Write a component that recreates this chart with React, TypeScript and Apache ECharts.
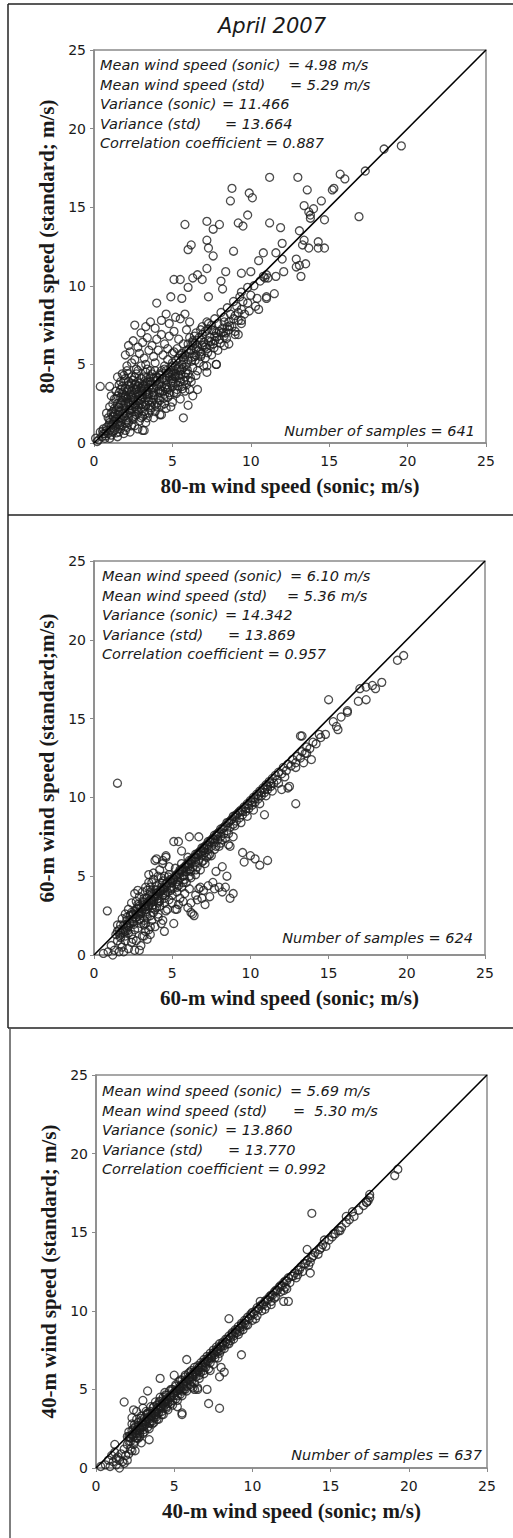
import React, { useEffect, useRef } from "react";
import * as echarts from "echarts";

// ---------- DATA ----------
const TITLE = "April 2007";
const X_TICKS = [0, 5, 10, 15, 20, 25];
const DIAGONAL = [[0, 0], [25, 25]];

const X_NAMES = [
  "80-m wind speed (sonic; m/s)",
  "60-m wind speed (sonic; m/s)",
  "40-m wind speed (sonic; m/s)",
];
const Y_NAMES = [
  "80-m wind speed (standard; m/s)",
  "60-m wind speed (standard;m/s)",
  "40-m wind speed (standard; m/s)",
];

// stats: [left label, right part]
const STATS_80 = [
  ["Mean wind speed (sonic)", "= 4.98 m/s"],
  ["Mean wind speed (std)", "= 5.29 m/s"],
  ["Variance (sonic)", "= 11.466"],
  ["Variance (std)", "= 13.664"],
  ["Correlation coefficient", "= 0.887"],
];
const STATS_60 = [
  ["Mean wind speed (sonic)", "= 6.10 m/s"],
  ["Mean wind speed (std)", "= 5.36 m/s"],
  ["Variance (sonic)", "= 14.342"],
  ["Variance (std)", "= 13.869"],
  ["Correlation coefficient", "= 0.957"],
];
const STATS_40 = [
  ["Mean wind speed (sonic)", "= 5.69 m/s"],
  ["Mean wind speed (std)", "=  5.30 m/s"],
  ["Variance (sonic)", "= 13.860"],
  ["Variance (std)", "= 13.770"],
  ["Correlation coefficient", "= 0.992"],
];
const SAMPLES = ["Number of samples = 641", "Number of samples = 624", "Number of samples = 637"];

// 80 m: sonic (x) vs standard (y)
const POINTS_80 = [
  [19.6,18.9],[18.5,18.7],[17.3,17.3],[16.9,14.4],[15.7,17.1],[16.0,16.8],[15.2,16.1],[15.3,16.2],[14.5,15.4],[14.7,14.2],
  [14.0,14.9],[13.7,14.7],[13.8,14.5],[13.8,14.3],[13.4,15.1],[13.6,16.1],[13.0,16.9],[13.1,13.5],[13.4,12.9],[13.3,12.6],
  [13.7,12.4],[14.3,12.8],[14.3,12.4],[14.7,12.4],[12.0,12.7],[12.0,11.7],[12.1,10.9],[12.9,11.7],[12.9,11.2],[13.1,11.3],
  [13.5,11.4],[13.2,10.6],[11.9,13.7],[11.2,16.9],[8.8,16.2],[8.7,15.4],[9.9,15.9],[10.1,15.6],[9.8,14.5],[11.2,14.0],
  [5.8,13.9],[7.2,14.1],[7.6,13.6],[8.0,13.9],[9.2,14.0],[9.5,13.8],[7.2,12.9],[7.3,12.4],[7.6,11.9],[6.0,12.3],
  [6.2,12.6],[8.9,12.2],[10.8,12.1],[10.5,11.6],[11.6,12.1],[7.2,11.1],[8.4,10.9],[9.4,10.8],[10.0,10.9],[5.1,10.4],
  [5.5,10.4],[6.3,10.5],[6.6,10.7],[6.9,10.4],[6.0,9.9],[8.1,10.3],[8.2,9.8],[4.9,9.3],[5.6,9.2],[7.3,9.3],
  [4.0,8.9],[9.4,9.6],[9.8,9.9],[10.2,10.0],[10.6,10.3],[10.9,10.5],[11.1,10.5],[11.6,10.6],[10.0,9.4],[10.4,9.2],
  [11.0,9.3],[11.5,9.5],[11.0,10.7],[10.8,10.6],[11.0,9.2],[10.5,8.5],[9.4,7.8],[9.2,6.9],[9.0,7.1],[7.8,5.0],
  [7.2,4.5],[6.6,3.4],[6.0,2.4],[5.7,1.6],[4.2,1.8],[3.2,0.8],[2.6,7.5],[0.4,3.6],[1.0,3.6],
  // upper lobe
  [3.0,7.0],[3.3,7.4],[3.6,7.7],[3.9,7.3],[4.3,7.8],[4.6,8.2],[4.8,7.6],[5.2,8.0],[5.5,7.9],[2.2,6.2],
  [2.5,6.5],[2.8,6.1],[3.1,6.4],[3.4,6.7],[3.7,6.2],[4.0,6.6],[4.3,6.9],[4.5,6.3],[4.8,6.8],[5.1,7.1],
  [5.4,6.6],[2.0,5.6],[2.3,5.8],[2.6,5.3],[2.9,5.7],[3.2,5.4],[3.5,5.9],[3.8,5.5],[4.1,5.9],[4.4,5.6],
  [4.7,6.0],[5.0,5.7],[2.1,4.9],[2.4,5.1],[2.7,4.7],[3.0,4.9],[3.3,5.0],[3.6,4.6],[3.9,5.1],[1.8,4.4],
  [1.5,4.2],[5.8,8.2],[6.1,7.7],[5.9,7.2],[6.3,6.5],
  // dense lower-left mass
  [0.3,0.2],[0.5,0.4],[0.7,0.3],[0.9,0.6],[1.1,0.5],[1.3,0.8],[1.5,0.4],[1.7,0.9],[1.9,0.6],[1.2,1.2],
  [0.8,1.0],[2.1,1.0],[2.3,0.7],[2.6,1.1],[2.8,0.9],[3.1,0.8],[0.9,1.6],[1.1,1.9],[1.3,1.4],[1.5,1.8],
  [1.7,1.3],[1.9,1.7],[2.1,1.4],[2.3,1.9],[2.5,1.5],[2.7,1.8],[2.9,1.4],[3.1,1.7],[3.3,1.3],[3.5,1.9],
  [3.8,1.6],[4.3,1.8],[1.4,2.1],[1.2,2.5],[1.4,2.8],[1.6,2.3],[1.8,2.7],[2.0,2.2],[2.2,2.6],[2.4,2.9],
  [2.6,2.3],[2.8,2.7],[3.0,2.2],[3.2,2.6],[3.4,2.9],[3.6,2.4],[3.8,2.8],[4.0,2.3],[4.2,2.7],[4.5,2.5],
  [4.7,2.9],[5.0,2.6],[1.7,2.0],[2.3,2.1],[1.4,3.3],[1.6,3.7],[1.8,3.2],[2.0,3.5],[2.2,3.9],[2.4,3.3],
  [2.6,3.7],[2.8,3.1],[3.0,3.5],[3.2,3.9],[3.4,3.3],[3.6,3.7],[3.8,3.2],[4.0,3.6],[4.2,3.9],[4.4,3.3],
  [4.6,3.7],[4.8,3.2],[5.0,3.6],[5.3,3.4],[5.5,3.9],[1.9,3.9],[2.5,4.0],[1.9,4.3],[2.1,4.6],[2.4,4.2],
  [2.7,4.4],[3.0,4.1],[3.3,4.5],[3.6,4.2],[3.9,4.6],[4.2,4.3],[4.5,4.7],[4.8,4.2],[5.1,4.6],[5.4,4.3],
  [5.7,4.8],[6.0,4.4],[6.2,3.9],[5.8,3.3],[5.5,2.8],[6.3,3.0],[0.2,0.1],[0.4,0.7],[0.6,0.9],[0.1,0.3],
  [2.2,3.0],[2.9,3.0],[3.5,3.5],[2.5,2.5],[3.1,3.1],[1.6,1.6],[2.0,2.9],[2.7,3.4],[3.3,2.4],[1.0,1.3],
  [0.6,0.6],[0.8,0.8],[1.0,0.3],[1.2,0.7],[1.4,1.0],[1.6,0.7],[1.8,1.1],[2.0,0.8],[2.2,1.3],[2.4,1.1],
  [1.0,1.5],[1.2,1.7],[1.4,1.5],[1.6,2.0],[1.8,1.5],[2.0,1.9],[2.2,1.6],[2.4,2.2],[2.6,1.7],[2.8,2.1],
  [3.0,1.6],[3.2,2.0],[3.4,1.6],[3.6,2.1],[3.9,2.0],[1.3,2.2],[1.5,2.5],[1.7,2.9],[1.9,2.4],[2.1,2.8],
  [2.3,2.4],[2.5,2.7],[2.7,2.2],[2.9,2.5],[3.1,2.9],[3.3,2.4],[3.5,2.7],[3.7,2.6],[3.9,2.4],[4.1,2.9],
  [4.3,2.4],[4.6,2.2],[4.9,2.3],[1.5,3.0],[1.7,3.4],[1.9,3.1],[2.1,3.3],[2.3,3.6],[2.5,3.1],[2.7,3.5],
  [2.9,3.8],[3.1,3.3],[3.3,3.6],[3.5,3.1],[3.7,3.4],[3.9,3.9],[4.1,3.3],[4.3,3.6],[4.5,3.1],[4.7,3.4],
  [4.9,3.8],[5.1,3.2],[5.2,3.8],[2.0,4.1],[2.2,4.4],[2.6,4.2],[2.8,4.6],[3.2,4.2],[3.4,4.7],[3.7,4.4],
  [4.0,4.2],[4.3,4.6],[4.6,4.3],[4.9,4.8],[5.2,4.4],[5.5,4.6],[5.8,4.2],[5.6,3.6],[5.9,3.7],[6.1,3.4],
  [1.1,1.1],[0.7,0.6],[1.5,1.2],[2.6,2.0],[3.0,2.8],[3.4,3.1],[3.8,3.5],[4.2,3.2],[4.6,4.0],[5.0,4.1],
  [1.2,2.0],[1.0,2.3],[0.8,1.9],[1.3,2.8],[1.1,3.0],[2.2,3.7],[1.7,3.9],[2.8,3.9],[3.3,3.8],
  [1.05,0.85],[1.25,1.35],[1.45,0.65],[1.65,1.15],[1.85,1.85],[2.05,1.25],[2.25,2.15],[2.45,1.65],[2.65,2.45],[2.85,1.95],
  [3.05,2.45],[3.25,1.85],[3.45,2.65],[3.65,2.25],[3.85,3.05],[4.05,2.55],[4.25,3.35],[4.45,2.85],[4.65,3.55],[4.85,3.05],
  [5.05,3.85],[5.25,3.15],[5.45,4.15],[5.65,3.45],[5.85,4.45],[1.35,1.85],[1.55,2.25],[1.75,2.55],[1.95,2.05],[2.15,2.55],
  [2.35,3.05],[2.55,2.85],[2.75,3.25],[2.95,2.75],[3.15,3.65],[3.35,3.25],[3.55,3.85],[3.75,3.05],[3.95,4.15],[4.15,3.75],
  [4.35,4.05],[4.55,3.45],[4.75,4.45],[4.95,3.95],[5.15,4.25],[5.35,3.65],[5.55,4.35],[5.75,3.95],[5.95,4.65],[6.15,4.15],
  [1.6,3.2],[1.8,3.6],[2.0,3.0],[2.2,3.4],[2.4,3.8],[2.6,3.4],[2.8,3.6],[3.0,3.3],[3.2,3.5],[3.4,3.9],
  [3.6,3.9],[3.8,4.1],[4.0,4.0],[4.2,4.4],[4.4,4.1],[4.6,4.6],[4.8,4.4],[5.0,4.9],[5.2,4.2],[5.4,4.8],
  [2.05,2.45],[2.35,2.75],[1.25,1.65],[1.55,1.35],[0.95,1.15],[0.75,0.45],[0.55,0.75],[1.85,2.95],[2.65,3.75],[3.35,4.15],
  // diagonal band
  [5.0,5.1],[5.2,4.9],[5.4,5.4],[5.6,5.0],[5.8,5.6],[6.0,5.3],[6.2,5.9],[6.4,5.5],[6.6,6.1],[6.8,5.8],
  [7.0,6.4],[7.2,6.0],[7.4,6.7],[7.6,6.3],[7.8,7.0],[8.0,6.6],[8.2,7.3],[8.4,7.0],[8.6,7.7],[8.8,7.4],
  [9.0,8.1],[9.2,7.8],[9.4,8.5],[9.6,8.2],[9.8,8.9],[5.3,6.0],[5.7,6.3],[6.1,6.7],[6.5,7.0],[6.9,7.4],
  [7.3,7.6],[7.7,7.9],[8.1,8.3],[8.5,8.6],[8.9,9.0],[9.3,9.3],[6.3,4.8],[6.7,5.1],[7.1,5.4],[7.5,5.6],
  [7.9,5.9],[8.3,6.2],[6.0,4.0],[6.5,4.3],[7.0,4.9],[7.8,5.0],[8.6,6.3],[9.0,6.9],[9.4,7.6],[9.9,8.4],
  [10.3,8.7],[4.5,4.9],[4.7,5.3],[4.9,4.5],[5.1,5.8],[6.9,6.9],[7.5,7.2],[8.3,8.0],[6.3,6.2],[5.6,5.7],
  [5.0,4.4],[5.3,4.7],[5.6,4.7],[5.9,5.0],[6.2,5.2],[6.5,5.6],[6.8,5.5],[7.1,6.1],[7.4,6.2],[7.7,6.5],
  [8.0,7.1],[8.3,6.8],[8.6,7.2],[8.9,7.9],[9.2,8.3],[5.5,5.6],[5.9,5.9],[6.3,6.4],[6.7,6.7],[7.1,7.1],
  [7.5,7.5],[7.9,7.6],[8.3,7.7],[8.7,8.2],[9.1,8.7],[9.5,9.0],[6.0,6.3],[6.4,6.8],[6.8,7.2],[7.2,7.7],
  [5.7,5.3],[6.1,5.7],[6.5,6.0],[6.9,6.2],[7.3,6.5],[7.7,6.8],[8.1,7.0],[8.5,7.4],[6.6,4.6],[7.2,4.9],
  [6.25,5.45],[6.45,5.25],[6.65,5.85],[6.85,5.65],[7.05,6.25],[7.25,5.75],[7.45,6.45],[7.65,6.05],[7.85,6.75],[8.05,6.35],
  [8.25,7.05],[8.45,6.65],[8.65,7.45],[5.25,5.25],[5.65,5.45],[6.05,5.95],[6.45,6.35],[6.85,6.55],[7.25,7.25],[7.65,7.15],
];

// 60 m
const POINTS_60 = [
  [19.8,19.0],[19.4,18.7],[18.4,17.3],[18.0,16.9],[17.8,17.1],[17.4,17.0],[17.0,16.9],[17.4,16.2],[16.9,16.1],[15.0,16.2],
  [16.2,15.4],[16.2,15.5],[15.8,15.1],[15.6,14.3],[15.5,14.5],[15.3,14.8],[13.3,13.9],[14.4,14.0],[14.8,14.0],[13.9,12.4],
  [13.6,12.8],[13.4,12.2],[12.9,11.9],[12.5,10.7],[12.0,10.5],[1.5,10.9],[0.85,2.8],[13.2,13.9],[12.9,9.6],[12.4,10.6],
  [10.9,8.9],[5.1,7.2],[5.4,7.2],[6.1,7.5],[6.7,7.5],[5.6,6.6],[8.7,6.9],[9.5,6.5],[9.6,5.9],[10.0,6.3],
  [10.3,6.1],[10.6,5.7],[11.1,6.0],[4.0,6.1],[4.6,6.2],[4.4,5.8],[3.5,5.1],[3.8,4.8],[3.6,4.3],[8.5,5.0],
  [8.0,4.3],[8.4,4.3],[8.9,3.9],[8.7,3.6],[8.2,4.0],[7.4,3.7],[7.1,3.2],[6.8,4.3],[6.2,2.7],[6.4,2.5],
  [5.3,2.9],[5.1,2.0],[4.5,1.5],[4.1,2.4],[3.2,1.2],[3.5,1.6],[2.6,0.3],[2.9,0.3],
  // near origin
  [0.6,0.1],[0.9,0.2],[1.1,0.6],[1.3,0.3],[1.5,0.9],[1.2,0.0],[1.6,0.2],[1.8,0.5],[2.0,0.9],[1.9,0.2],
  [2.2,0.4],[2.4,0.8],[2.7,0.9],[3.0,0.6],[3.1,1.2],[3.4,1.0],[3.2,1.9],
  // lower band
  [1.4,1.3],[1.6,1.6],[1.7,1.1],[1.9,1.9],[2.0,1.5],[2.1,2.2],[2.2,1.8],[2.3,2.5],[2.4,1.3],[2.5,2.1],
  [2.6,2.8],[2.7,2.4],[2.8,1.7],[2.9,3.1],[3.0,2.6],[3.1,3.4],[3.2,2.2],[3.3,2.9],[3.4,3.6],[3.5,3.1],
  [3.6,2.5],[3.7,3.9],[3.8,3.4],[3.9,2.9],[4.0,4.1],[4.1,3.6],[4.2,3.1],[4.3,4.3],[4.4,3.8],[4.5,3.3],
  [4.6,4.5],[4.7,4.0],[4.8,3.5],[4.9,4.7],[5.0,4.2],[2.6,3.9],[2.8,4.1],[2.9,3.7],[3.3,4.3],[3.5,4.6],
  [3.8,5.2],[4.2,5.4],[4.5,5.0],[4.4,6.0],[4.6,6.3],[3.9,6.0],[4.8,5.6],[2.2,2.9],[2.4,3.3],[2.0,2.6],
  [1.8,2.3],[1.5,1.9],[3.7,2.2],[4.1,2.6],[4.4,2.2],[4.7,2.9],[5.2,2.9],[3.6,1.3],[3.9,1.8],[3.3,1.5],
  [2.5,2.6],[3.0,3.0],[3.4,3.3],[3.8,3.7],[4.2,4.0],[2.8,2.9],[3.2,3.2],[3.6,3.5],[4.0,3.9],[4.4,4.2],
  [1.5,1.5],[1.7,1.4],[1.9,1.6],[2.1,1.9],[2.3,2.0],[2.5,2.3],[2.7,2.6],[2.9,2.7],[3.1,2.9],[3.3,3.1],
  [3.5,3.4],[3.7,3.5],[3.9,3.7],[4.1,4.0],[4.3,4.1],[4.5,4.3],[4.7,4.6],[4.9,4.8],[2.2,1.4],[2.6,1.6],
  [3.0,2.0],[3.4,2.4],[3.8,2.7],[4.2,3.4],[4.6,3.8],[5.0,3.8],[2.4,2.7],[2.8,3.2],[3.2,3.6],[3.6,4.0],
  [4.0,4.4],[4.4,4.7],[4.8,5.1],[3.1,4.0],[3.4,4.1],[4.1,5.0],[3.7,4.6],[4.3,4.9],[2.7,3.4],[2.1,2.4],
  [1.7,1.9],[2.9,2.3],[3.3,2.6],[3.7,3.0],[4.1,3.3],[4.5,3.6],[4.9,4.1],[4.0,3.0],[4.6,2.8],[3.3,2.0],
  [2.0,1.2],[2.5,1.0],[1.7,0.7],[3.6,1.8],[4.3,2.0],
  [2.05,1.75],[2.25,2.05],[2.45,2.15],[2.65,2.35],[2.85,2.55],[3.05,2.75],[3.25,3.05],[3.45,3.15],[3.65,3.35],[3.85,3.55],
  [4.05,3.75],[4.25,4.05],[4.45,4.15],[4.65,4.35],[4.85,4.55],[2.35,2.55],[2.75,2.95],[3.15,3.35],[3.55,3.75],[3.95,4.15],
  [4.35,4.55],[4.75,4.95],[2.15,1.55],[2.55,1.95],[2.95,2.25],[3.35,2.75],[3.75,3.15],[4.15,3.45],[4.55,3.95],[4.95,4.35],
  [1.85,1.45],[1.65,1.25],
  // middle band
  [5.1,4.8],[5.2,5.0],[5.3,4.5],[5.4,5.2],[5.5,4.9],[5.6,5.4],[5.7,5.0],[5.8,5.6],[5.9,5.3],[6.0,5.8],
  [6.1,5.4],[6.2,6.0],[6.3,5.6],[6.4,6.2],[6.5,5.9],[6.6,6.4],[6.7,6.0],[6.8,6.6],[6.9,6.3],[7.0,6.8],
  [7.1,6.5],[7.2,7.0],[7.3,6.7],[7.4,7.2],[7.5,6.9],[7.6,7.4],[7.7,7.1],[7.8,7.6],[7.9,7.3],[8.0,7.8],
  [8.1,7.5],[8.2,8.0],[8.3,7.7],[8.4,8.2],[8.5,7.9],[8.6,8.4],[8.7,8.1],[8.8,8.6],[8.9,8.3],[9.0,8.8],
  [5.3,4.0],[5.6,4.3],[5.9,4.6],[6.2,4.9],[6.5,5.1],[6.8,5.4],[7.1,5.8],[5.5,3.6],[5.8,3.9],[6.1,4.2],
  [6.2,3.3],[6.5,3.8],[6.7,4.2],[6.9,3.6],[6.0,3.0],[6.3,2.6],[7.6,4.6],[7.8,5.3],[8.2,5.6],[8.6,7.0],
  [8.9,7.5],[7.2,6.2],[7.5,6.3],[8.0,6.9],[8.4,7.4],[5.0,4.6],[5.5,5.3],[6.0,5.6],[6.5,6.2],[7.0,6.6],
  [5.1,4.9],[5.3,5.1],[5.5,5.4],[5.7,5.5],[5.9,5.7],[6.1,6.0],[6.3,6.1],[6.5,6.4],[6.7,6.5],[6.9,6.8],
  [7.1,6.9],[7.3,7.2],[7.5,7.3],[7.7,7.6],[7.9,7.7],[8.1,8.0],[8.3,8.1],[8.5,8.4],[8.7,8.5],[8.9,8.8],
  [5.4,4.4],[5.8,4.8],[6.2,5.3],[6.6,5.6],[7.0,6.0],[7.4,6.4],[7.8,6.9],[8.2,7.3],[8.6,7.7],[9.0,8.2],
  [5.2,5.5],[5.6,5.8],[6.0,6.2],[5.3,4.3],[5.7,4.6],[6.1,5.0],[6.5,5.4],[6.9,5.9],[7.3,6.3],[7.7,6.7],
  [8.1,7.1],[5.0,3.3],[5.4,3.2],[5.7,3.4],[6.6,3.5],[7.0,4.1],[7.3,4.4],[7.7,4.2],
  [5.05,4.75],[5.25,4.95],[5.45,5.15],[5.65,5.35],[5.85,5.55],[6.05,5.75],[6.25,5.95],[6.45,6.15],[6.65,6.35],[6.85,6.55],
  [7.05,6.75],[7.25,6.95],[7.45,7.15],[7.65,7.35],[7.85,7.55],[5.35,4.65],[5.75,5.05],[6.15,5.45],
  // upper band
  [9.1,8.5],[9.2,9.0],[9.3,8.7],[9.4,9.2],[9.5,8.9],[9.6,9.4],[9.7,9.1],[9.8,9.6],[9.9,9.3],[10.0,9.8],
  [10.1,9.5],[10.2,10.0],[10.3,9.7],[10.4,10.2],[10.5,9.9],[10.6,10.4],[10.7,10.1],[10.8,10.6],[10.9,10.3],[11.0,10.8],
  [11.1,10.5],[11.2,11.0],[11.3,10.7],[11.4,11.2],[11.5,10.9],[11.6,11.4],[11.7,11.1],[11.8,11.6],[12.0,11.5],[12.1,11.9],
  [12.3,11.7],[12.4,12.1],[12.6,12.0],[12.7,12.4],[12.9,12.2],[13.0,12.6],[13.2,12.5],[13.3,12.9],[13.5,12.8],[13.6,13.2],
  [13.8,13.1],[14.0,13.5],[14.2,13.4],[14.5,13.8],[9.4,8.4],[9.8,8.8],[10.2,9.2],[10.6,9.6],[11.0,10.1],[11.4,10.4],
  [11.8,10.9],[12.2,11.3],[9.1,8.9],[9.3,9.1],[9.5,9.1],[9.7,9.3],[9.9,9.5],[10.1,9.7],[10.3,9.9],[10.5,10.1],
  [10.7,10.3],[10.9,10.5],[11.1,10.7],[11.3,10.9],
];

// 40 m
const POINTS_40 = [
  [19.3,19.0],[19.1,18.6],[17.5,17.4],[17.3,16.9],[17.4,17.0],[16.4,16.3],[16.0,16.0],[15.6,15.1],[15.2,14.9],[14.6,14.5],
  [14.3,13.9],[13.8,16.2],[13.5,13.9],[13.7,12.4],[8.5,9.5],[9.3,7.2],[12.0,10.6],[5.8,6.9],[4.1,5.7],[5.0,5.9],
  [3.3,4.9],[3.0,4.3],[1.8,4.2],[2.4,3.7],[2.6,3.6],[2.3,3.2],[3.4,1.8],[1.2,1.5],[7.1,5.0],[7.2,4.1],
  [7.9,3.8],[5.5,3.5],[5.5,3.4],[7.9,5.8],[8.2,6.1],[8.0,6.4],[6.3,5.0],[6.5,5.1],[5.2,3.9],
  // near origin
  [0.3,0.1],[0.6,0.2],[0.9,0.1],[1.1,0.4],[1.3,0.2],[1.5,0.0],[1.7,0.4],[1.6,0.9],[1.9,0.8],[2.0,0.5],
  [1.4,0.7],[1.2,1.0],[1.0,0.8],[0.8,0.5],[2.2,1.2],[2.1,1.7],[2.4,1.5],[2.6,1.9],[2.5,1.1],[2.8,2.2],
  [2.9,1.6],[1.5,0.5],[1.8,0.3],[1.3,0.6],[2.1,0.9],[2.3,1.1],[1.8,1.2],[2.0,1.5],[2.2,1.7],
  // band
  [2.0,2.0],[2.1,2.3],[2.2,1.9],[2.3,2.1],[2.4,2.5],[2.5,2.2],[2.6,2.4],[2.7,2.7],[2.8,2.5],[2.9,2.6],
  [3.0,2.9],[3.1,2.7],[3.2,3.0],[3.3,3.2],[3.4,2.9],[3.5,3.3],[3.6,3.5],[3.7,3.2],[3.8,3.6],[3.9,3.8],
  [4.0,3.5],[4.1,3.9],[4.2,4.1],[4.3,3.8],[4.4,4.2],[4.5,4.4],[4.6,4.1],[4.7,4.5],[4.8,4.6],[4.9,4.3],
  [5.0,4.8],[5.1,4.9],[5.2,4.6],[5.3,5.0],[5.4,5.2],[5.5,4.9],[5.6,5.3],[5.7,5.5],[5.8,5.2],[5.9,5.6],
  [6.0,5.8],[6.1,5.5],[6.2,5.9],[6.3,6.1],[6.4,5.8],[6.5,6.2],[6.6,6.4],[6.7,6.1],[6.8,6.5],[6.9,6.7],
  [7.0,6.4],[7.1,6.8],[7.2,7.0],[7.3,6.7],[7.4,7.1],[7.5,7.3],[7.6,7.0],[7.7,7.4],[7.8,7.6],[7.9,7.3],
  [8.0,7.7],[8.1,7.9],[8.2,7.6],[8.3,8.0],[8.4,8.2],[8.5,7.9],[8.6,8.3],[8.7,8.5],[8.8,8.2],[8.9,8.6],
  [9.0,8.8],[9.1,8.5],[9.2,8.9],[9.3,9.1],[9.4,8.8],[9.5,9.2],[9.6,9.4],[9.7,9.1],[9.8,9.5],[9.9,9.7],
  [10.0,9.4],
  [2.4,2.0],[2.6,2.2],[2.8,2.4],[3.0,2.6],[3.2,2.8],[3.4,3.1],[3.6,3.3],[3.8,3.4],[4.0,3.7],[4.2,3.9],
  [4.4,4.0],[4.6,4.3],[4.8,4.5],[5.0,4.6],[5.2,4.9],[5.4,5.0],[5.6,5.2],[5.8,5.5],[6.0,5.6],[6.2,5.8],
  [6.4,6.1],[6.6,6.2],[6.8,6.4],[7.0,6.7],[7.2,6.8],[7.4,7.0],[7.6,7.2],[7.8,7.4],[8.0,7.5],[8.2,7.8],
  [8.4,7.9],[8.6,8.1],[8.8,8.4],[9.0,8.6],[9.2,8.7],[9.4,9.0],[9.6,9.1],
  [2.1,2.0],[2.3,2.4],[2.5,2.6],[2.7,2.9],[2.9,3.0],[3.1,3.2],[3.3,3.5],[3.5,3.6],[3.7,3.9],[3.9,4.0],
  [4.1,4.2],[4.3,4.5],[4.5,4.6],[4.7,4.9],[4.9,5.0],[5.1,5.2],[5.3,5.5],[5.5,5.6],[5.7,5.8],[5.9,6.0],
  [6.1,6.2],[6.3,6.4],[6.5,6.5],[6.7,6.7],[6.9,6.9],[7.1,7.1],[7.3,7.3],[7.5,7.5],[7.7,7.7],[7.9,7.9],
  [8.1,8.0],[8.3,8.2],[8.5,8.4],[8.7,8.6],[8.9,8.8],[9.1,9.0],[9.3,9.2],[9.5,9.4],[9.7,9.6],[9.9,9.8],
  [2.15,1.95],[2.35,2.15],[2.55,2.35],[2.75,2.55],[2.95,2.75],[3.15,2.95],[3.35,3.15],[3.55,3.35],[3.75,3.55],[3.95,3.75],
  [4.15,3.95],[4.35,4.15],[4.55,4.35],[4.75,4.55],[4.95,4.75],[5.15,4.95],[5.35,5.15],[5.55,5.35],[5.75,5.55],[5.95,5.75],
  [6.15,5.95],[6.35,6.15],[6.55,6.35],[6.75,6.55],[6.95,6.75],[7.15,6.95],[7.35,7.15],[7.55,7.35],[7.75,7.55],[7.95,7.75],
  [2.45,2.75],[2.85,3.15],[3.25,3.45],[3.65,3.85],[4.05,4.25],[4.45,4.65],[2.65,2.05],[3.05,2.45],[3.45,2.85],[3.85,3.25],
  // spread x 2-8
  [2.3,2.8],[2.6,3.1],[2.9,3.3],[3.2,3.6],[3.5,3.9],[3.8,4.2],[4.1,4.5],[4.4,4.8],[2.5,1.7],[2.8,2.0],
  [3.1,2.3],[3.4,2.5],[3.7,2.9],[4.0,3.1],[4.3,3.4],[4.6,3.7],[4.9,4.0],[5.2,4.3],[5.5,4.6],[5.8,4.9],
  [6.1,5.2],[3.0,3.8],[3.3,3.4],[3.6,3.0],[4.2,3.6],[4.5,3.9],[4.8,5.0],[5.1,5.3],[5.4,5.6],[5.7,5.9],
  [6.0,6.1],[6.3,5.4],[6.6,5.7],[6.9,6.0],[7.2,6.3],[7.5,6.6],[7.8,7.0],[6.4,6.0],[5.6,5.0],[4.7,4.2],
  [3.9,3.4],[6.5,5.0],[6.2,5.1],[7.3,6.2],[2.7,1.9],[3.0,2.2],[3.3,2.6],[3.6,2.8],[3.9,3.1],[4.2,3.4],
  [4.5,3.8],[4.8,4.1],[5.1,4.4],[5.4,4.7],[5.7,5.0],[6.0,5.3],[6.6,5.9],[6.9,6.2],
  // band x 10-17.5
  [10.1,9.8],[10.2,10.0],[10.3,9.7],[10.4,10.1],[10.5,10.3],[10.6,10.0],[10.7,10.4],[10.8,10.6],[10.9,10.3],[11.0,10.7],
  [11.1,10.9],[11.2,10.6],[11.3,11.0],[11.4,11.2],[11.5,10.9],[11.6,11.3],[11.7,11.5],[11.8,11.2],[11.9,11.6],[12.0,11.8],
  [12.1,11.5],[12.2,11.9],[12.3,12.1],[12.4,11.8],[12.6,12.2],[12.7,12.4],[12.8,12.1],[13.0,12.6],[13.1,12.8],[13.2,12.5],
  [13.4,13.0],[13.5,13.2],[13.7,13.1],[13.9,13.5],[14.0,13.7],[14.2,13.6],[14.4,14.0],[14.5,14.2],[14.7,14.1],[14.9,14.5],
  [15.1,14.7],[15.3,14.9],[15.5,15.1],[15.7,15.3],[16.0,15.6],[16.2,15.8],[16.5,16.0],[16.8,16.4],[17.1,16.7],[17.3,16.9],
  [17.5,17.2],[10.5,10.6],[11.2,10.4],[12.0,11.3],[12.3,10.6],
  [10.0,9.9],[10.3,10.2],[10.6,10.4],[10.9,10.7],[11.2,11.0],[11.5,11.3],[11.8,11.6],[12.1,11.9],[12.5,12.2],[12.9,12.6],
  [13.3,13.0],[13.8,13.4],[10.2,9.5],[10.8,10.1],[11.4,10.8],[12.2,11.4],[12.9,12.3],[13.6,12.9],
];

const PANEL_POINTS = [POINTS_80, POINTS_60, POINTS_40];
const PANEL_STATS = [STATS_80, STATS_60, STATS_40];

// ---------- LAYOUT ----------
const GRIDS = [
  { left: 94, top: 50, width: 392, height: 393 },
  { left: 94, top: 561, width: 391, height: 394 },
  { left: 96, top: 1075, width: 391, height: 393 },
];
// stats text layout: left x, first line centre y, "=" x for each of the 5 lines
const STAT_LAYOUT = [
  { x: 100, y: 65, eq: [288, 290, 222, 225, 0] },
  { x: 102, y: 576, eq: [290, 287, 225, 228, 0] },
  { x: 102, y: 1091, eq: [290, 293, 225, 228, 0] },
];
const SAMPLE_POS = [
  { x: 475, y: 431 },
  { x: 473, y: 938 },
  { x: 482, y: 1455 },
];

const AXIS_GRAY = "#8a8a8a";
const TEXT = "#1a1a1a";
const ITALIC = { fontFamily: "DejaVu Sans", fontStyle: "italic", fontSize: 14.5, fill: TEXT };

export default function App() {
  const ref = useRef<HTMLDivElement>(null);

  useEffect(() => {
    if (!ref.current) return;
    const chart = echarts.init(ref.current, undefined, { renderer: "svg" });

    const grid: any[] = [];
    const xAxis: any[] = [];
    const yAxis: any[] = [];
    const series: any[] = [];
    const graphic: any[] = [];

    GRIDS.forEach((g, i) => {
      grid.push({ ...g, show: true, borderColor: AXIS_GRAY, borderWidth: 1.5, backgroundColor: "transparent" });
      const common = {
        gridIndex: i,
        type: "value",
        min: X_TICKS[0],
        max: X_TICKS[X_TICKS.length - 1],
        interval: 5,
        axisLine: { show: true, lineStyle: { color: AXIS_GRAY, width: 1.5 } },
        axisTick: { show: true, inside: false, length: 4, lineStyle: { color: AXIS_GRAY, width: 1 } },
        splitLine: { show: false },
        axisLabel: { color: TEXT, fontSize: 14, fontFamily: "DejaVu Sans" },
        nameLocation: "middle",
        nameTextStyle: { fontFamily: "Liberation Serif", fontWeight: "bold", fontSize: 21, color: TEXT },
      };
      xAxis.push({ ...common, name: X_NAMES[i], nameGap: 32, axisLabel: { ...common.axisLabel, margin: 11 } });
      yAxis.push({ ...common, name: Y_NAMES[i], nameGap: 37, nameRotate: 90, axisLabel: { ...common.axisLabel, margin: 8 } });

      series.push({
        type: "scatter",
        xAxisIndex: i,
        yAxisIndex: i,
        symbol: "circle",
        symbolSize: 8,
        itemStyle: { color: "rgba(0,0,0,0)", borderColor: "#1e1e1e", borderWidth: 1.3 },
        data: PANEL_POINTS[i],
        z: 2,
      });
      series.push({
        type: "line",
        xAxisIndex: i,
        yAxisIndex: i,
        showSymbol: false,
        symbol: "none",
        lineStyle: { color: "#000", width: 1.6 },
        data: DIAGONAL,
        z: 3,
      });

      const L = STAT_LAYOUT[i];
      PANEL_STATS[i].forEach((row, k) => {
        const y = L.y + k * 19.5;
        if (k === 4) {
          graphic.push({ type: "text", x: L.x, y, style: { ...ITALIC, text: row[0] + " " + row[1], textVerticalAlign: "middle" } });
        } else {
          graphic.push({ type: "text", x: L.x, y, style: { ...ITALIC, text: row[0], textVerticalAlign: "middle" } });
          graphic.push({ type: "text", x: L.eq[k], y, style: { ...ITALIC, text: row[1], textVerticalAlign: "middle" } });
        }
      });
      graphic.push({
        type: "text",
        x: SAMPLE_POS[i].x,
        y: SAMPLE_POS[i].y,
        style: { ...ITALIC, text: SAMPLES[i], textAlign: "right", textVerticalAlign: "middle" },
      });
    });

    // title
    graphic.push({
      type: "text",
      x: 272,
      y: 26,
      style: { ...ITALIC, fontSize: 21, text: TITLE, textAlign: "center", textVerticalAlign: "middle" },
    });

    // panel frames
    const frame = { stroke: "#222", lineWidth: 1.5 };
    graphic.push({ type: "line", shape: { x1: 8, y1: 4, x2: 513, y2: 4 }, style: frame });
    graphic.push({ type: "line", shape: { x1: 8, y1: 4, x2: 8, y2: 1028 }, style: frame });
    graphic.push({ type: "line", shape: { x1: 8, y1: 515, x2: 513, y2: 515 }, style: frame });
    graphic.push({ type: "line", shape: { x1: 8, y1: 1028, x2: 513, y2: 1028 }, style: frame });
    graphic.push({ type: "line", shape: { x1: 10, y1: 1028, x2: 10, y2: 1538 }, style: { stroke: "#555", lineWidth: 1.5 } });

    chart.setOption({
      animation: false,
      backgroundColor: "#ffffff",
      grid,
      xAxis,
      yAxis,
      series,
      graphic,
    });

    return () => chart.dispose();
  }, []);

  return (
    <div
      ref={ref}
      style={{ position: "absolute", left: 0, top: 0, width: 513, height: 1538 }}
    />
  );
}
